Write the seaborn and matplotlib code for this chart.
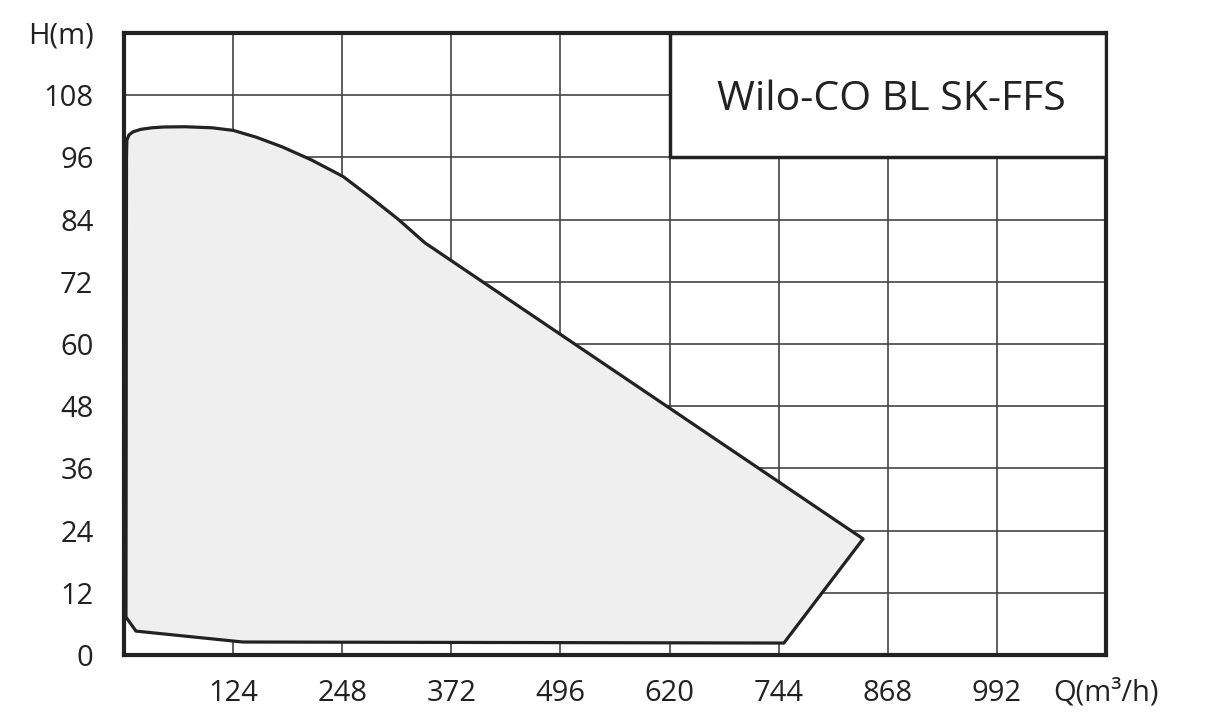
import numpy as np
import pandas as pd
import seaborn as sns
import matplotlib.pyplot as plt
from matplotlib.patches import Rectangle

# operating field outline (Q in m3/h, H in m)
q_vals = [2.8, 3.2, 5.5, 10, 19, 32, 45, 69, 100, 124, 150, 180, 213, 249, 280, 312, 342,
          840, 750, 135, 13.6, 2.2, 2.8]
h_vals = [96, 99.3, 100.3, 100.9, 101.4, 101.7, 101.85, 101.9, 101.7, 101.2, 99.9, 98.0, 95.5, 92.3, 88.3, 84, 79.5,
          22.4, 2.3, 2.5, 4.6, 7.3, 96]

x_ticks = [124, 248, 372, 496, 620, 744, 868, 992, 1116]
x_labels = ['124', '248', '372', '496', '620', '744', '868', '992', 'Q(m³/h)']
y_ticks = [0, 12, 24, 36, 48, 60, 72, 84, 96, 108, 120]
y_labels = ['0', '12', '24', '36', '48', '60', '72', '84', '96', '108', 'H(m)']
title = 'Wilo-CO BL SK-FFS'

sns.set_style('white')
plt.rcParams['font.family'] = ['Open Sans', 'DejaVu Sans']

df = pd.DataFrame({'Q': q_vals, 'H': h_vals})

fig = plt.figure(figsize=(12.22, 7.25), dpi=100)
ax = fig.add_axes([0.1015, 0.0966, 0.8035, 0.858])

ax.fill(df['Q'], df['H'], color='#efefef', zorder=1)
sns.lineplot(data=df, x='Q', y='H', sort=False, estimator=None, color='#222222', lw=2.3, ax=ax, zorder=3)

ax.set_xlim(0, 1116)
ax.set_ylim(0, 120)
ax.set_xticks(x_ticks)
ax.set_xticklabels(x_labels)
ax.set_yticks(y_ticks)
ax.set_yticklabels(y_labels)
ax.tick_params(axis='both', length=0, labelsize=21, colors='#222222')
ax.tick_params(axis='x', pad=17)
ax.tick_params(axis='y', pad=22)
ax.grid(True, color='#444444', lw=1.2, zorder=0)
ax.set_axisbelow(True)
ax.set_xlabel('')
ax.set_ylabel('')
for s in ax.spines.values():
    s.set_visible(True)
    s.set_color('#222222')
    s.set_linewidth(3)

# title box in the upper right corner
ax.add_patch(Rectangle((620, 96), 496, 24, facecolor='white', edgecolor='#222222', lw=2.5, zorder=4))
ax.text(872, 107.2, title, ha='center', va='center', fontsize=29.5, color='#222222', zorder=5)

fig.savefig('out.png', dpi=100)
